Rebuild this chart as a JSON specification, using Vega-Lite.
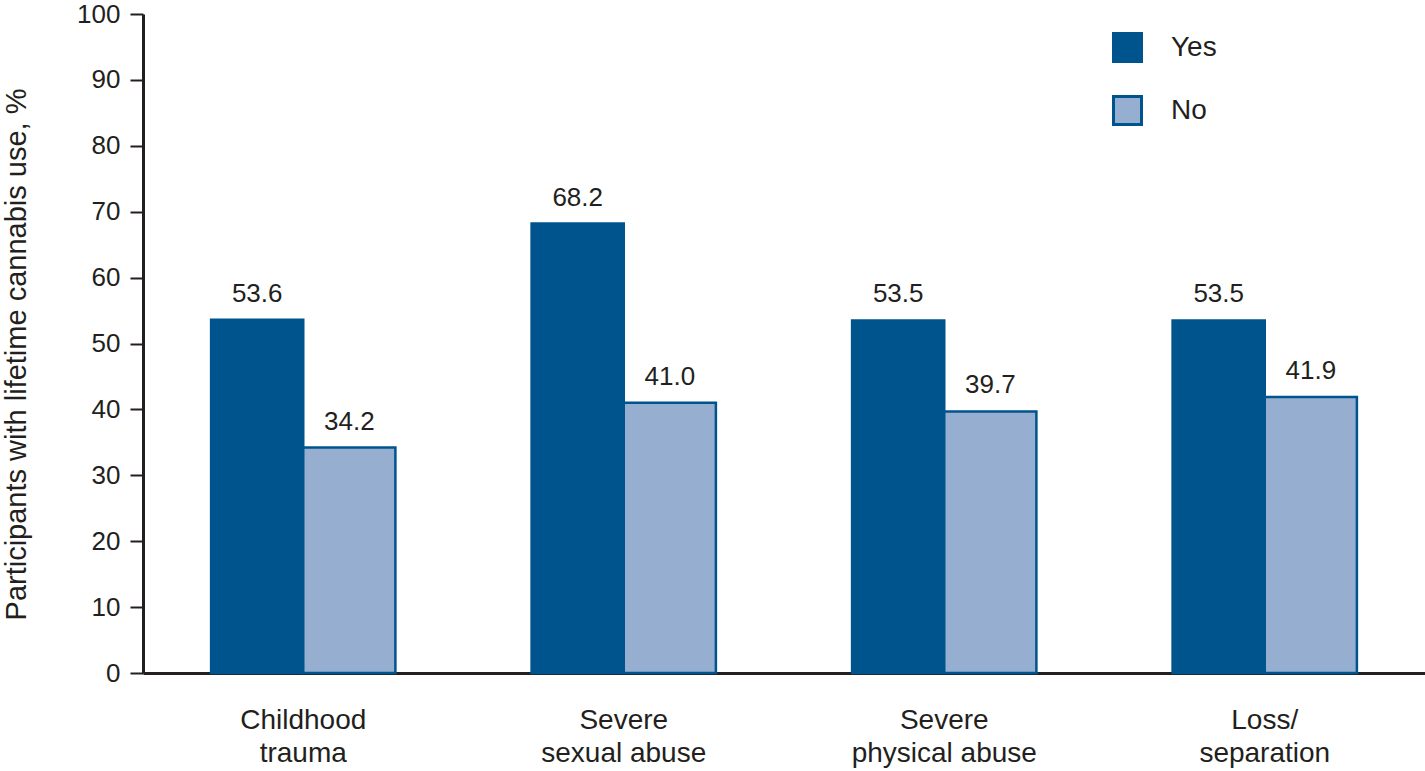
{
  "$schema": "https://vega.github.io/schema/vega-lite/v6.json",
  "autosize": "none",
  "width": 1282,
  "height": 659,
  "padding": {"left": 143, "top": 14, "right": 0, "bottom": 98},
  "background": "white",
  "config": {
    "font": "Liberation Sans",
    "view": {"stroke": null},
    "axis": {"grid": false, "labelFont": "Liberation Sans", "titleFont": "Liberation Sans", "labelColor": "#231f20", "titleColor": "#231f20", "domainColor": "#231f20", "tickColor": "#231f20"}
  },
  "data": {
    "values": [
      {"cat": "Childhood|trauma", "grp": "Yes", "v": 53.6},
      {"cat": "Childhood|trauma", "grp": "No", "v": 34.2},
      {"cat": "Severe|sexual abuse", "grp": "Yes", "v": 68.2},
      {"cat": "Severe|sexual abuse", "grp": "No", "v": 41.0},
      {"cat": "Severe|physical abuse", "grp": "Yes", "v": 53.5},
      {"cat": "Severe|physical abuse", "grp": "No", "v": 39.7},
      {"cat": "Loss/|separation", "grp": "Yes", "v": 53.5},
      {"cat": "Loss/|separation", "grp": "No", "v": 41.9}
    ]
  },
  "encoding": {
    "x": {
      "field": "cat", "type": "nominal", "sort": null,
      "scale": {"paddingInner": 0.425, "paddingOuter": 0.2125},
      "axis": {"title": null, "labelAngle": 0, "ticks": false, "domainWidth": 3, "labelFontSize": 28, "labelLineHeight": 33, "labelPadding": 33, "labelLimit": 0, "labelExpr": "split(datum.label, '|')"}
    },
    "xOffset": {"field": "grp", "type": "nominal", "sort": ["Yes", "No"], "scale": {"paddingInner": 0, "paddingOuter": 0}},
    "y": {
      "field": "v", "type": "quantitative",
      "scale": {"domain": [0, 100], "nice": false},
      "axis": {"title": "Participants with lifetime cannabis use, %", "values": [0,10,20,30,40,50,60,70,80,90,100], "tickSize": 13, "tickWidth": 2, "domainWidth": 3, "labelFontSize": 26, "labelPadding": 10, "titleFontSize": 29, "titleFontWeight": "normal", "titleX": -112, "titleY": 340, "titleBaseline": "bottom", "titleAnchor": "middle"}
    }
  },
  "layer": [
    {
      "mark": {"type": "bar", "stroke": "#00548e", "strokeWidth": 2.5},
      "encoding": {
        "color": {
          "field": "grp", "type": "nominal", "sort": ["Yes", "No"],
          "scale": {"domain": ["Yes", "No"], "range": ["#00548e", "#96aecf"]},
          "legend": {"title": null, "orient": "none", "legendX": 969, "legendY": 18, "symbolType": "square", "symbolSize": 784, "symbolStrokeColor": "#00548e", "symbolStrokeWidth": 3, "labelFontSize": 28, "labelOffset": 28, "rowPadding": 22, "labelColor": "#231f20", "labelFont": "Liberation Sans"}
        }
      }
    },
    {
      "mark": {"type": "text", "baseline": "bottom", "dy": -13, "fontSize": 26, "color": "#231f20"},
      "encoding": {"text": {"field": "v", "type": "quantitative", "format": ".1f"}}
    }
  ]
}
